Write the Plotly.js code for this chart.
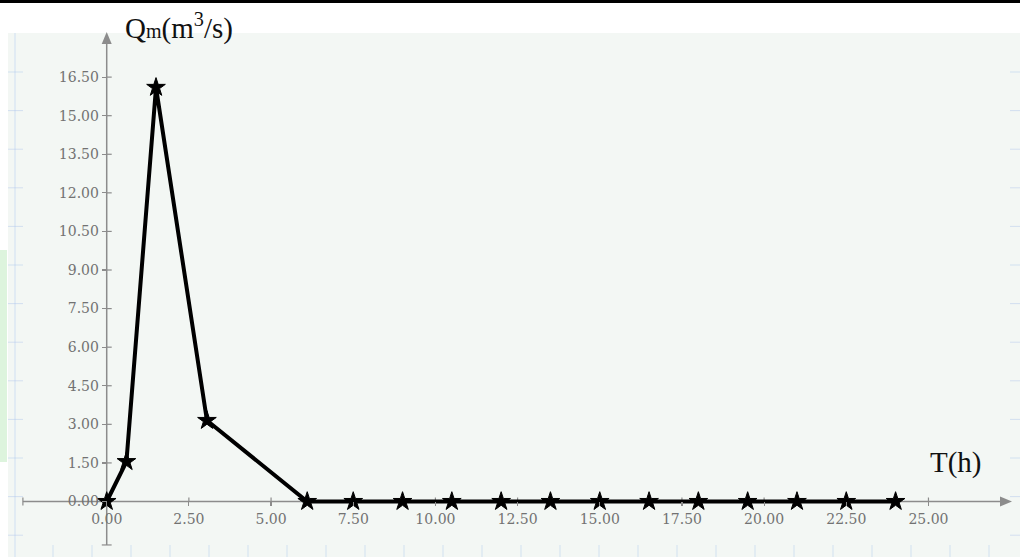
<!DOCTYPE html>
<html>
<head>
<meta charset="utf-8">
<script src="https://cdn.plot.ly/plotly-3.0.1.min.js"></script>
<style>html,body{margin:0;padding:0;background:#fff;}#chart{width:1020px;height:557px;}</style>
</head>
<body>
<div id="chart"></div>
<script>
// ---- data ----
const timeH  = [0, 0.6, 1.5, 3.05, 6.1, 7.5, 9, 10.5, 12, 13.5, 15, 16.5, 18, 19.5, 21, 22.5, 24];
const flowQm = [0, 1.55, 16.1, 3.15, 0, 0, 0, 0, 0, 0, 0, 0, 0, 0, 0, 0, 0];
const xTickVals = [0, 2.5, 5, 7.5, 10, 12.5, 15, 17.5, 20, 22.5, 25];
const xTickText = ['0.00','2.50','5.00','7.50','10.00','12.50','15.00','17.50','20.00','22.50','25.00'];
const yTickVals = [0, 1.5, 3, 4.5, 6, 7.5, 9, 10.5, 12, 13.5, 15, 16.5];
const yTickText = ['0.00','1.50','3.00','4.50','6.00','7.50','9.00','10.50','12.00','13.50','15.00','16.50'];
const yTitle = 'Q<span style="font-size:20px">m</span>(m<sup>3</sup>/s)';
const xTitle = 'T(h)';

// ---- layout geometry ----
const W = 1020, H = 557, mL = 8, mT = 33;
const xRange = [-3.003, 27.785];
const yRange = [-2.158, 18.215];
const xAxisPos = (0 - yRange[0]) / (yRange[1] - yRange[0]);
const yAxisPos = (0 - xRange[0]) / (xRange[1] - xRange[0]);
const axisGrey = '#8c8c8c';
const tickFont = {family: 'DejaVu Serif', size: 14, color: '#727272'};

// pixel -> paper helpers for page decoration
const pw = W - mL, ph = H - mT;
const px = p => (p - mL) / pw;
const py = p => 1 - (p - mT) / ph;

const shapes = [];
// top table border
shapes.push({type:'line', xref:'paper', yref:'paper', x0:px(0), x1:px(W), y0:py(1.5), y1:py(1.5), line:{color:'#000', width:3}});
[70, 197, 362, 582, 748, 967].forEach(v => shapes.push({type:'line', xref:'paper', yref:'paper', x0:px(v), x1:px(v), y0:py(0), y1:py(2), line:{color:'#000', width:1.5}}));
// left watermark strip
shapes.push({type:'rect', xref:'paper', yref:'paper', x0:px(0), x1:px(7), y0:py(250), y1:py(462), line:{width:0}, fillcolor:'#ddf4dd', layer:'below'});
// faint paper grid stubs
const faint = 'rgba(170,195,235,0.45)';
shapes.push({type:'line', xref:'paper', yref:'paper', x0:px(15), x1:px(15), y0:py(mT), y1:py(H), line:{color:'rgba(190,210,240,0.45)', width:1.5}});
for (let p = 72; p < H; p += 38.6) {
  shapes.push({type:'line', xref:'paper', yref:'paper', x0:px(8), x1:px(23), y0:py(p), y1:py(p), line:{color:faint, width:1}});
  shapes.push({type:'line', xref:'paper', yref:'paper', x0:px(1010), x1:px(W), y0:py(p), y1:py(p), line:{color:faint, width:1}});
}
for (let p = 53; p < W; p += 39) {
  shapes.push({type:'line', xref:'paper', yref:'paper', x0:px(p), x1:px(p), y0:py(545), y1:py(H), line:{color:faint, width:1}});
}
// axes: lines, end caps and arrowheads
const xStart = -2.55, yStart = -1.69, xTip = 27.3, yTip = 17.8;
shapes.push({type:'line', xref:'x', yref:'y', x0:xStart, x1:xTip, y0:0, y1:0, line:{color:axisGrey, width:1.5}, layer:'below'});
shapes.push({type:'line', xref:'x', yref:'y', x0:0, x1:0, y0:yStart, y1:yTip, line:{color:axisGrey, width:1.5}, layer:'below'});
shapes.push({type:'line', xref:'x', yref:'y', x0:xStart, x1:xStart, y0:-0.16, y1:0.16, line:{color:axisGrey, width:1.2}});
shapes.push({type:'line', xref:'x', yref:'y', x0:-0.15, x1:0.15, y0:yStart, y1:yStart, line:{color:axisGrey, width:1.2}});
// inner half of the cross-shaped ticks
xTickVals.forEach(v => shapes.push({type:'line', xref:'x', yref:'y', ysizemode:'pixel', yanchor:0, x0:v, x1:v, y0:0, y1:4, line:{color:axisGrey, width:1.2}, layer:'below'}));
yTickVals.forEach(v => shapes.push({type:'line', xref:'x', yref:'y', xsizemode:'pixel', xanchor:0, x0:0, x1:5, y0:v, y1:v, line:{color:axisGrey, width:1.2}, layer:'below'}));
// arrowheads (pixel geometry converted to paper)
const ax0 = 106.7, ay0 = 501.5;
shapes.push({type:'path', xref:'paper', yref:'paper', fillcolor:axisGrey, line:{width:0},
  path:`M ${px(1012)} ${py(ay0)} L ${px(1000)} ${py(ay0-5)} L ${px(1000)} ${py(ay0+5)} Z`});
shapes.push({type:'path', xref:'paper', yref:'paper', fillcolor:axisGrey, line:{width:0},
  path:`M ${px(ax0)} ${py(32)} L ${px(ax0-5)} ${py(44)} L ${px(ax0+5)} ${py(44)} Z`});

const annotations = [
  {x:px(123), y:py(26), xref:'paper', yref:'paper', xanchor:'left', yanchor:'middle', text:yTitle, showarrow:false, font:{family:'Liberation Serif', size:29, color:'#111'}},
  {x:px(928), y:py(462), xref:'paper', yref:'paper', xanchor:'left', yanchor:'middle', text:xTitle, showarrow:false, font:{family:'Liberation Serif', size:29, color:'#111'}}
];

const traces = [
  {x: timeH, y: flowQm, type:'scatter', mode:'lines+markers',
   line:{color:'#000', width:4},
   marker:{symbol:'star', size:14, color:'#000', line:{color:'#000', width:1}},
   cliponaxis:false, hoverinfo:'skip'}
];

const baseAxis = {showgrid:false, zeroline:false, showline:false, fixedrange:true};

const layout = {
  width: W, height: H,
  margin: {l:mL, r:0, t:mT, b:0, pad:0},
  paper_bgcolor: '#ffffff',
  plot_bgcolor: '#f3f7f4',
  showlegend: false,
  xaxis: Object.assign({}, baseAxis, {range:xRange, anchor:'free', position:xAxisPos,
    tickmode:'array', tickvals:xTickVals, ticktext:xTickText, ticks:'outside', ticklen:4, tickwidth:1.2, tickcolor:axisGrey,
    tickfont:tickFont, ticklabelstandoff:1}),
  yaxis: Object.assign({}, baseAxis, {range:yRange, anchor:'free', position:yAxisPos,
    tickmode:'array', tickvals:yTickVals, ticktext:yTickText, ticks:'outside', ticklen:5, tickwidth:1.2, tickcolor:axisGrey,
    tickfont:tickFont}),
  shapes: shapes,
  annotations: annotations
};

Plotly.newPlot('chart', traces, layout, {staticPlot:true, displayModeBar:false});
</script>
</body>
</html>
